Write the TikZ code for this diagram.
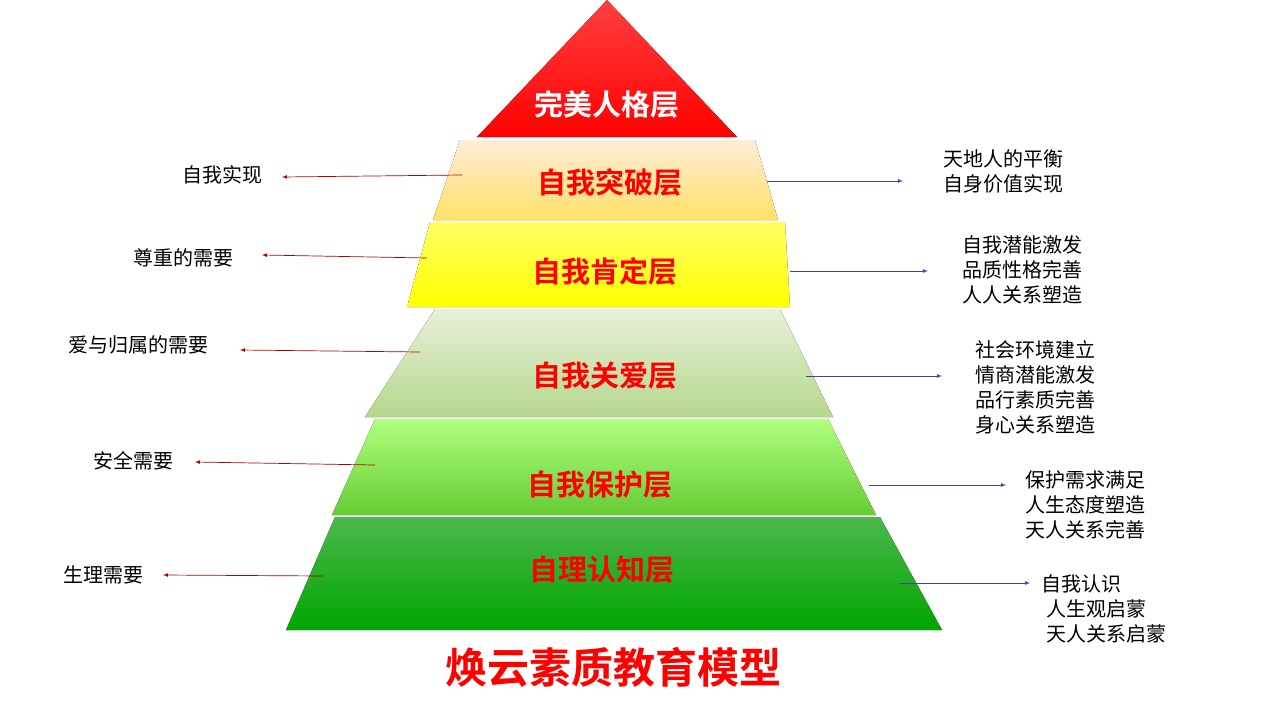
\documentclass[tikz,border=0pt]{standalone}
\usepackage{fontspec}
\setmainfont{Noto Sans CJK SC}[BoldFont={Noto Sans CJK SC Bold}]
\begin{document}
\begin{tikzpicture}[x=1pt,y=-1pt,
  lay/.style={draw=none},
  lab/.style={font=\fontsize{29}{30}\selectfont\bfseries,text=red},
  side/.style={font=\fontsize{20}{25}\selectfont,align=left,anchor=west},
  larr/.style={draw=red!70!black,-latex,line width=0.7pt},
  rarr/.style={draw=blue!50!gray,-latex,line width=0.7pt}]
\useasboundingbox (0,0) rectangle (1280,720);
\fill[top color=red!75!white,bottom color=red] (607,0) -- (737,137) -- (477,137) -- cycle;
\fill[top color=orange!15!white,bottom color=orange!40!yellow!60!white] (460,140) -- (755,140) -- (778,220) -- (433,220) -- cycle;
\fill[top color=yellow!60!white,bottom color=yellow] (430,222) -- (785,222) -- (790,307) -- (407,307) -- cycle;
\fill[top color=green!20!olive!15!white,bottom color=green!30!olive!45!white] (435,309) -- (780,309) -- (833,417) -- (365,417) -- cycle;
\fill[top color=green!50!lime!50!white,bottom color=green!50!olive!80!white] (375,419) -- (828,419) -- (876,515) -- (332,515) -- cycle;
\fill[top color=green!60!black!70!white,bottom color=green!65!black] (335,517) -- (880,517) -- (942,630) -- (286,630) -- cycle;
\node[lab,text=white] (l1) at (607,104) {完美人格层};
\node[lab] (l2) at (610,183) {自我突破层};
\node[lab] (l3) at (605,271) {自我肯定层};
\node[lab] (l4) at (605,376) {自我关爱层};
\node[lab] (l5) at (600,485) {自我保护层};
\node[lab] (l6) at (602,570) {自理认知层};
\node[font=\fontsize{42}{44}\selectfont\bfseries,text=red] (t) at (613,667) {焕云素质教育模型};
% left
\node[side,anchor=center] (a1) at (222,175) {自我实现};
\node[side,anchor=center] (a2) at (183,258) {尊重的需要};
\node[side,anchor=center] (a3) at (138,345) {爱与归属的需要};
\node[side,anchor=center] (a4) at (133,461) {安全需要};
\node[side,anchor=center] (a5) at (103,575) {生理需要};
\coordinate (s1) at (462,175); \coordinate (e1) at (282,177);
\coordinate (s2) at (427,258); \coordinate (e2) at (262,255);
\coordinate (s3) at (420,352); \coordinate (e3) at (240,350);
\coordinate (s4) at (375,465); \coordinate (e4) at (195,462);
\coordinate (s5) at (323,576); \coordinate (e5) at (163,575);
\foreach \i in {1,...,5} \draw[larr] (s\i) -- (e\i);
% right
\node[side,anchor=north west] (b1) at (940,146) {天地人的平衡\\自身价值实现};
\node[side,anchor=north west] (b2) at (959,232) {自我潜能激发\\品质性格完善\\人人关系塑造};
\node[side,anchor=north west] (b3) at (972,337) {社会环境建立\\情商潜能激发\\品行素质完善\\身心关系塑造};
\node[side,anchor=north west] (b4) at (1022,467) {保护需求满足\\人生态度塑造\\天人关系完善};
\node[side,anchor=north west] (b5) at (1038,571) {自我认识\\\ 人生观启蒙\\\ 天人关系启蒙};
\coordinate (r1) at (767,181); \coordinate (q1) at (903,181);
\coordinate (r2) at (790,271); \coordinate (q2) at (928,271);
\coordinate (r3) at (806,376); \coordinate (q3) at (942,376);
\coordinate (r4) at (869,485); \coordinate (q4) at (1006,485);
\coordinate (r5) at (900,583); \coordinate (q5) at (1030,583);
\foreach \i in {1,...,5} \draw[rarr] (r\i) -- (q\i);
\end{tikzpicture}
\end{document}
